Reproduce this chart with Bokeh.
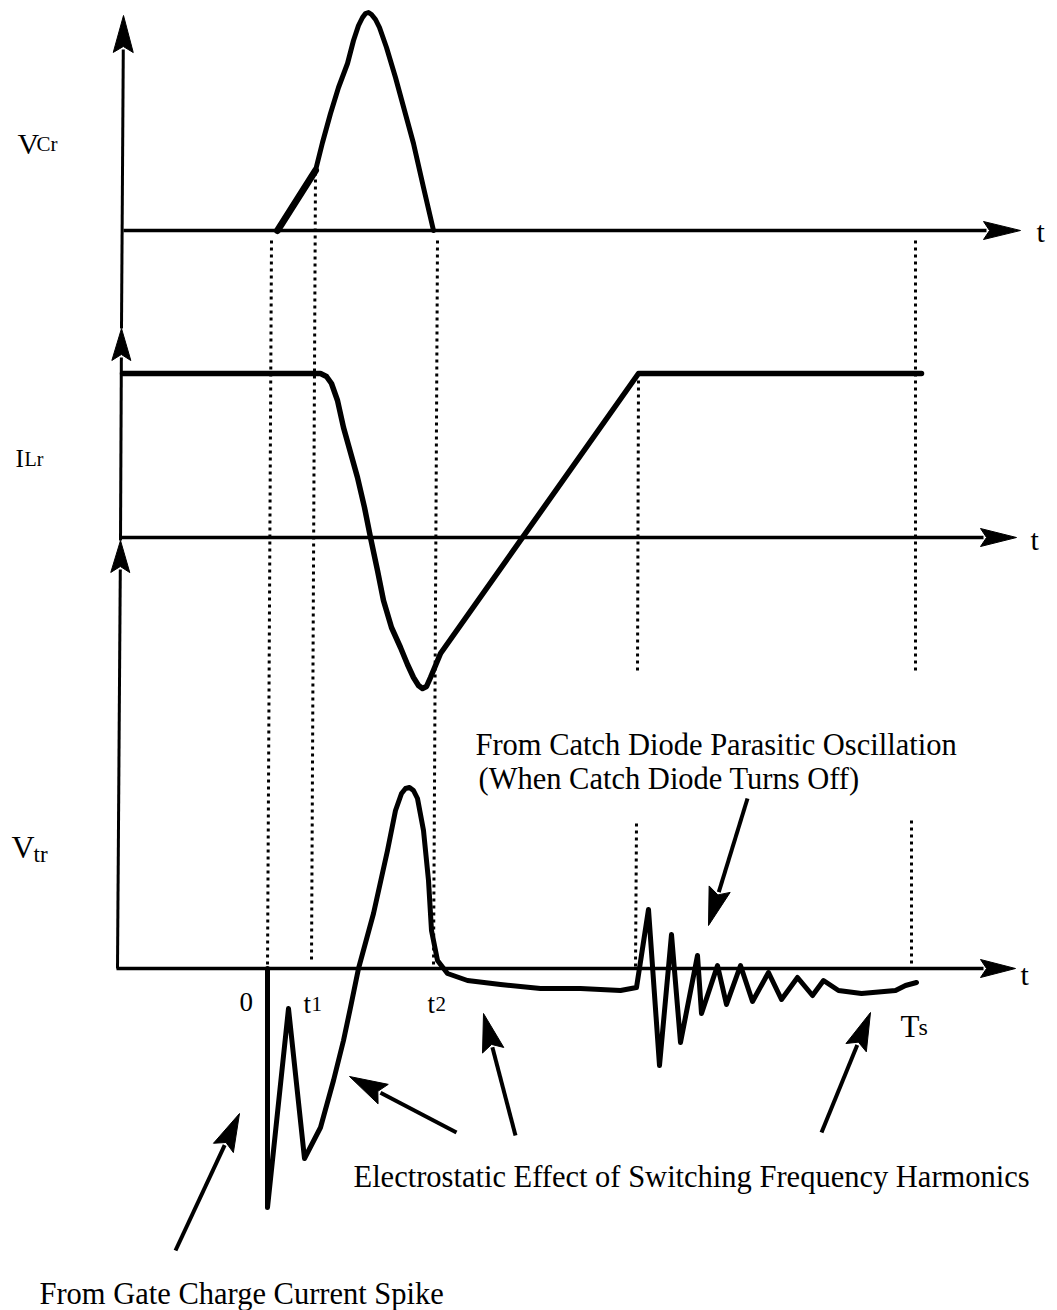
import math
from bokeh.plotting import figure
from bokeh.models import Range1d
from bokeh.core.properties import value
from bokeh.embed import file_html
from bokeh.resources import INLINE

# ---------------- data (x = time position, amplitudes positive upward) -------------
VCR_BASE, ILR_BASE, VTR_BASE = 230, 537, 968

vcr_t = [277, 315]
vcr_a = [0, 60]
vcr2_t = [315, 322, 330, 338, 347, 353, 358, 362, 365, 368, 371, 375, 379, 386, 395, 404, 413, 423, 433]
vcr2_a = [60, 88, 117, 143, 167, 190, 205, 213, 217, 218, 216, 211, 203, 183, 153, 120, 87, 43, 0]

ilr_t = [122, 320, 326, 331, 337, 343, 350, 357, 364, 370, 377, 383, 391, 400, 407, 413, 418, 422,
         426, 430, 435, 440, 638, 921]
ilr_a = [164, 164, 161, 154, 137, 110, 85, 60, 30, 0, -33, -63, -90, -110, -127, -140, -148, -151,
         -149, -140, -128, -116, 164, 164]

vtr_t = [267, 267, 288, 304, 320, 333, 343, 350, 358, 373, 387, 395, 401, 405, 409, 413, 417, 423,
         428, 431, 437, 447, 467, 500, 540, 580, 620, 636, 648, 659, 671, 680, 697, 701, 717, 726,
         740, 752, 768, 781, 797, 812, 823, 838, 861, 895, 905, 916]
vtr_a = [0, -239, -40, -190, -159, -112, -72, -39, 0, 55, 118, 158, 175, 180, 181, 178, 170, 138,
         88, 38, 8, -5, -12, -16, -20, -20, -22, -19, 59, -97, 34, -74, 13, -45, 3, -36,
         3, -33, -4, -31, -9, -27, -12, -22, -25, -22, -17, -14]

# dotted time markers: (x_top, y_top, x_bottom, y_bottom)
markers = [(271, 240, 267, 968), (315, 172, 311, 962), (437, 240, 433, 968),
           (638, 380, 637, 672), (636, 823, 635, 968),
           (915, 240, 915, 672), (911, 820, 911, 968)]

time_labels = ["0", "t", "t"]
time_subs = ["", "1", "2"]
time_x = [239, 303, 427]

ann_lines = ["From Catch Diode Parasitic Oscillation", "(When Catch Diode Turns Off)",
             "Electrostatic Effect of Switching Frequency Harmonics", "From Gate Charge Current Spike"]
ann_x = [475, 478, 353, 39]
ann_y = [753, 787, 1185, 1302]

# annotation arrows: (x_start, y_start, x_tip, y_tip)
ann_arrows = [(747, 798, 708, 925), (175, 1250, 239, 1113), (456, 1132, 349, 1076),
              (515, 1135, 483, 1013), (821, 1132, 870, 1012)]

FONT = value("Liberation Serif")
BLACK = "#000000"
TXT_DY = -9  # renderer places the alphabetic baseline slightly low

p = figure(width=1057, height=1310, x_range=Range1d(0, 1057), y_range=Range1d(1310, 0),
           output_backend="svg", toolbar_location=None, min_border=0,
           x_axis_location=None, y_axis_location=None)
p.grid.visible = False
p.outline_line_color = None
p.background_fill_color = "white"
p.border_fill_color = "white"


def arrow(x0, y0, x1, y1, head_len=36, head_w=20, lw=3.5):
    dx, dy = x1 - x0, y1 - y0
    L = math.hypot(dx, dy)
    ux, uy = dx / L, dy / L
    bx, by = x1 - ux * head_len, y1 - uy * head_len
    px, py = -uy, ux
    p.line([x0, bx + ux * 3], [y0, by + uy * 3], line_width=lw, line_color=BLACK)
    p.patch([x1, bx + px * head_w / 2, bx + ux * 6, bx - px * head_w / 2],
            [y1, by + py * head_w / 2, by + uy * 6, by - py * head_w / 2],
            fill_color=BLACK, line_color=BLACK, line_width=1)


def txt(xs, ys, texts, size):
    p.text(xs, [y + TXT_DY for y in ys], text=texts, text_font=FONT, text_font_size=size,
           text_baseline="alphabetic", text_color=BLACK)


# dotted markers
for (xa, ya, xb, yb) in markers:
    p.line([xa, xb], [ya, yb], line_width=3, line_color=BLACK, line_dash="3 4")

# vertical axis with three arrowheads
arrow(117, 968, 120, 540, head_len=32, head_w=19, lw=3)
arrow(120, 540, 121, 328, head_len=32, head_w=19, lw=3)
arrow(121, 328, 123, 15, head_len=37, head_w=20, lw=3)

# time axes
arrow(123, VCR_BASE, 1020, VCR_BASE, head_len=37, head_w=18, lw=3.4)
arrow(120, ILR_BASE, 1016, ILR_BASE, head_len=36, head_w=18, lw=3.4)
arrow(116, VTR_BASE, 1015, VTR_BASE, head_len=35, head_w=18, lw=3.4)

# waveforms
p.line(vcr_t, [VCR_BASE - a for a in vcr_a], line_width=7, line_color=BLACK, line_cap="round")
p.line(vcr2_t, [VCR_BASE - a for a in vcr2_a], line_width=5, line_color=BLACK,
       line_join="round", line_cap="round")
p.line(ilr_t, [ILR_BASE - a for a in ilr_a], line_width=5.5, line_color=BLACK,
       line_join="round", line_cap="round")
p.line(vtr_t, [VTR_BASE - a for a in vtr_a], line_width=5, line_color=BLACK,
       line_join="round", line_cap="round")

# annotation arrows
for (xa, ya, xb, yb) in ann_arrows:
    arrow(xa, ya, xb, yb, head_len=38, head_w=22, lw=4)

# signal labels
txt([17], [152], ["V"], "30px")
txt([36], [152], ["Cr"], "21px")
txt([15], [467], ["I"], "25px")
txt([24], [467], ["Lr"], "20px")
txt([11], [855], ["V"], "32px")
txt([33], [863], ["tr"], "23px")

# axis 't' labels
txt([1036, 1030, 1020], [240, 548, 983], ["t", "t", "t"], "30px")

# time labels
txt(time_x, [1010, 1012, 1012], time_labels, "27px")
txt([x + 8 for x in time_x], [1012, 1012, 1012], time_subs, "21px")
txt([900], [1035], ["T"], "31px")
txt([918], [1035], ["s"], "24px")

# annotation text
txt(ann_x, ann_y, ann_lines, "30.5px")

open("out.html", "w").write(file_html(p, INLINE))
